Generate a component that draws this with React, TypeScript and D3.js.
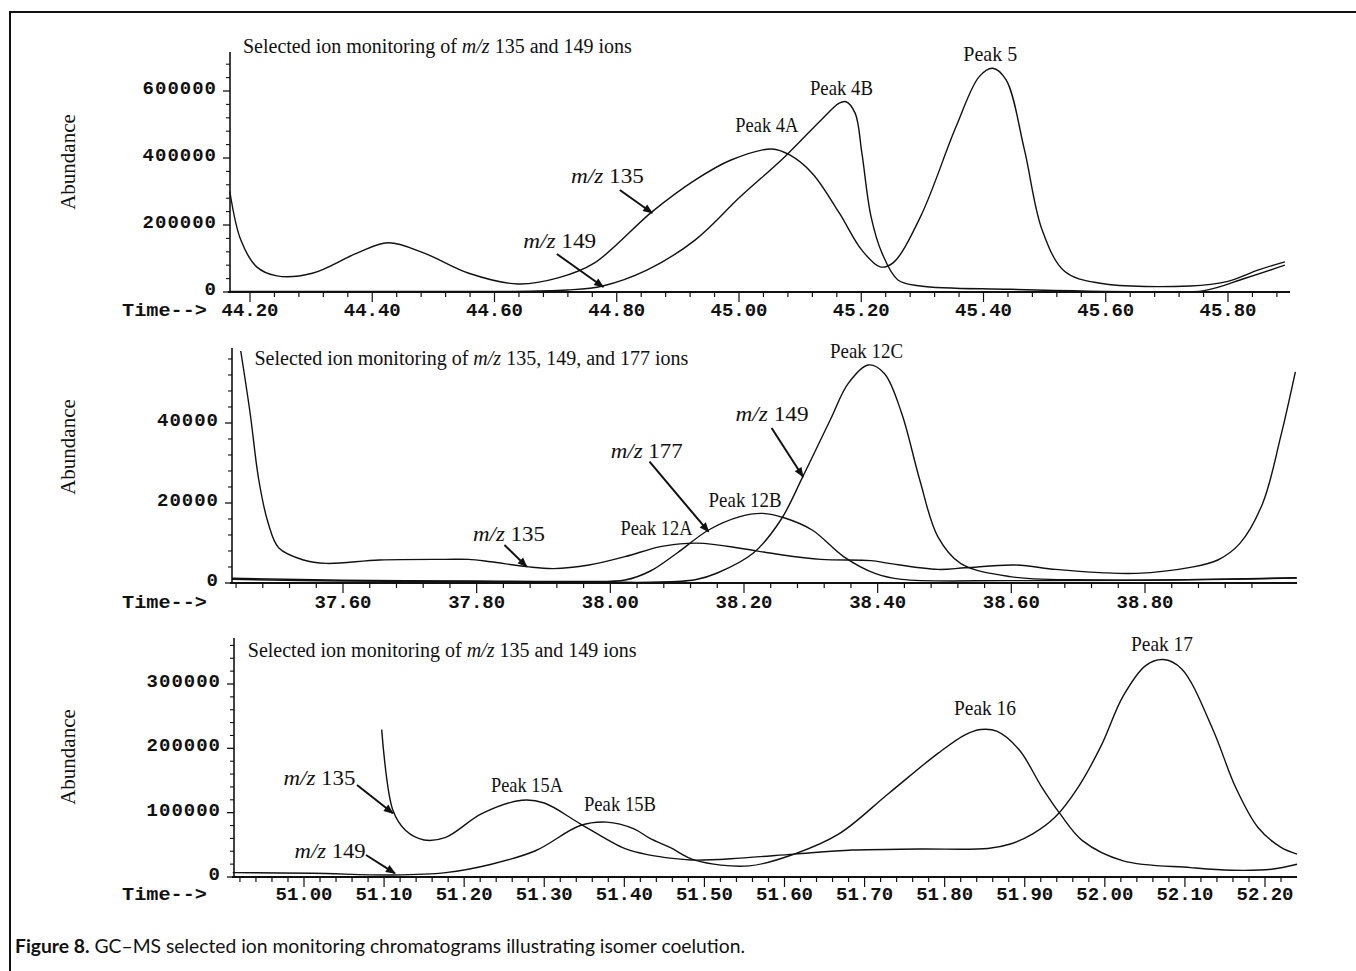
import React from "react";
import * as d3 from "d3";

// ---------------- Data ----------------
// Top panel: SIM of m/z 135 and 149 (time in min, abundance)
const topTime135 = [44.167, 44.185, 44.211, 44.244, 44.302, 44.375, 44.426, 44.485, 44.558, 44.638, 44.704, 44.763, 44.858, 44.928, 44.987, 45.054, 45.083, 45.12, 45.164, 45.201, 45.231, 45.252, 45.297, 45.355, 45.393, 45.415, 45.437, 45.467, 45.496, 45.533, 45.591, 45.738, 45.798, 45.85, 45.893];
const topAbund135 = [300000, 155000, 75000, 48000, 56000, 116000, 147000, 116000, 56000, 24000, 42000, 86000, 240000, 334000, 394000, 427000, 409000, 354000, 236000, 125000, 75000, 87000, 225000, 493000, 643000, 668000, 633000, 424000, 185000, 61000, 26000, 18000, 31000, 66000, 90000];
const topTime149 = [44.167, 44.4, 44.6, 44.719, 44.777, 44.85, 44.928, 45.002, 45.075, 45.134, 45.164, 45.175, 45.19, 45.201, 45.216, 45.234, 45.26, 45.297, 45.444, 45.666, 45.761, 45.828, 45.893];
const topAbund149 = [2000, 1500, 1500, 6000, 18000, 66000, 155000, 284000, 404000, 513000, 564000, 568000, 534000, 415000, 225000, 116000, 36000, 18000, 8000, 1000, 4000, 41000, 80000];
const topXTicks = ["44.20", "44.40", "44.60", "44.80", "45.00", "45.20", "45.40", "45.60", "45.80"];
const topYTicks = [0, 200000, 400000, 600000];

// Middle panel: SIM of m/z 135, 149 and 177
const midTime135 = [37.447, 37.461, 37.474, 37.488, 37.504, 37.541, 37.575, 37.655, 37.754, 37.788, 37.821, 37.875, 37.915, 37.968, 38.022, 38.075, 38.116, 38.14, 38.194, 38.248, 38.315, 38.39, 38.417, 38.49, 38.531, 38.605, 38.666, 38.733, 38.787, 38.868, 38.909, 38.942, 38.976, 39.003, 39.025];
const midAbund135 = [58000, 42500, 25750, 15000, 8750, 5750, 4900, 5750, 5900, 5900, 5300, 4100, 3600, 4500, 6600, 9100, 9900, 9900, 8700, 7250, 5900, 5600, 4900, 3400, 3800, 4500, 3400, 2600, 2400, 3900, 5750, 9900, 19900, 36600, 52800];
const midTime177 = [37.434, 37.6, 37.8, 37.95, 38.022, 38.06, 38.1, 38.147, 38.194, 38.228, 38.261, 38.302, 38.349, 38.396, 38.436, 38.6, 38.8, 39.027];
const midAbund177 = [1200, 700, 500, 400, 750, 3000, 7500, 13250, 16600, 17400, 16250, 13250, 6600, 2400, 900, 600, 700, 1300];
const midTime149 = [37.434, 37.6, 37.8, 38.0, 38.06, 38.127, 38.16, 38.214, 38.255, 38.288, 38.329, 38.356, 38.386, 38.41, 38.436, 38.463, 38.49, 38.524, 38.598, 38.733, 39.027];
const midAbund149 = [900, 500, 300, 200, 200, 800, 2500, 7500, 15750, 26600, 40750, 49900, 54500, 52400, 42400, 25750, 11600, 4900, 1600, 750, 1250];
const midXTicks = ["37.60", "37.80", "38.00", "38.20", "38.40", "38.60", "38.80"];
const midYTicks = [0, 20000, 40000];

// Bottom panel: SIM of m/z 135 and 149
const botTime135 = [51.097, 51.111, 51.127, 51.15, 51.177, 51.222, 51.272, 51.3, 51.345, 51.401, 51.432, 51.46, 51.488, 51.544, 51.612, 51.685, 51.769, 51.854, 51.882, 51.91, 51.938, 51.967, 51.995, 52.023, 52.051, 52.073, 52.096, 52.135, 52.163, 52.191, 52.22, 52.24];
const botAbund135 = [229000, 103600, 72200, 57600, 61700, 98400, 119300, 115000, 82700, 44000, 34000, 29000, 26200, 29300, 35600, 41900, 43500, 44400, 51300, 67000, 93100, 140200, 203000, 281500, 328600, 338000, 323400, 229000, 140200, 77400, 46000, 35600];
const botTime149 = [50.911, 51.011, 51.111, 51.177, 51.234, 51.289, 51.345, 51.378, 51.412, 51.432, 51.457, 51.488, 51.556, 51.612, 51.668, 51.73, 51.792, 51.826, 51.845, 51.865, 51.893, 51.921, 51.944, 51.972, 52.023, 52.107, 52.158, 52.208, 52.24];
const botAbund149 = [6800, 5800, 3100, 6800, 19900, 40800, 80000, 85300, 74900, 60000, 46000, 26200, 17300, 35600, 67000, 129800, 192600, 221400, 229200, 226600, 197800, 140200, 98400, 56500, 25100, 14600, 10500, 12100, 19900];
const botXTicks = ["51.00", "51.10", "51.20", "51.30", "51.40", "51.50", "51.60", "51.70", "51.80", "51.90", "52.00", "52.10", "52.20"];
const botYTicks = [0, 100000, 200000, 300000];

const CAPTION_BOLD = "Figure 8.";
const CAPTION_TEXT = " GC\u2013MS selected ion monitoring chromatograms illustrating isomer coelution.";

// ---------------- Styling / layout ----------------
const SERIF = "'Liberation Serif', 'Times New Roman', serif";
const MONO = "'Liberation Mono', 'Courier New', monospace";
const SANS = "Lato, 'Open Sans', sans-serif";

type Part = { t: string; i?: boolean };
type Ann = { t: number; v: number; w: number; parts: Part[] };
type Arrow = { t0: number; v0: number; t1: number; v1: number };

const mz = (n: string): Part[] => [{ t: "m/z", i: true }, { t: " " + n }];
const pk = (n: string): Part[] => [{ t: "Peak " + n }];

const panels = [
  {
    key: "top",
    xDomain: [44.2, 45.8], xRange: [250, 1228],
    yDomain: [0, 600000], yRange: [292, 91],
    axisLeft: 230, axisRight: 1290, axisTop: 52,
    xMinor: 0.04, xMajor: 0.2, yMinor: 40000,
    xTicks: topXTicks, yTicks: topYTicks,
    abundY: 162, timeBase: 316,
    series: [
      { t: topTime135, v: topAbund135 },
      { t: topTime149, v: topAbund149 },
    ],
    title: { t: 44.1885, v: 713400, parts: [{ t: "Selected ion monitoring of " }, { t: "m/z", i: true }, { t: " 135 and 149 ions" }] },
    labels: [
      { t: 44.725, v: 325400, w: 73, parts: mz("135") },
      { t: 44.647, v: 131300, w: 73, parts: mz("149") },
      { t: 44.994, v: 477600, w: 63, parts: pk("4A") },
      { t: 45.116, v: 589500, w: 63, parts: pk("4B") },
      { t: 45.367, v: 691000, w: 54, parts: pk("5") },
    ] as Ann[],
    arrows: [
      { t0: 44.805, v0: 304500, t1: 44.858, v1: 235800 },
      { t0: 44.702, v0: 113400, t1: 44.778, v1: 14900 },
    ] as Arrow[],
  },
  {
    key: "mid",
    xDomain: [37.6, 38.8], xRange: [343, 1145],
    yDomain: [0, 40000], yRange: [583, 423],
    axisLeft: 232, axisRight: 1297, axisTop: 348,
    xMinor: 0.04, xMajor: 0.2, yMinor: 4000,
    xTicks: midXTicks, yTicks: midYTicks,
    abundY: 447, timeBase: 608,
    series: [
      { t: midTime135, v: midAbund135 },
      { t: midTime177, v: midAbund177 },
      { t: midTime149, v: midAbund149 },
    ],
    title: { t: 37.4676, v: 54500, parts: [{ t: "Selected ion monitoring of " }, { t: "m/z", i: true }, { t: " 135, 149, and 177 ions" }] },
    labels: [
      { t: 38.3287, v: 56250, w: 73, parts: pk("12C") },
      { t: 38.1874, v: 40575, w: 73, parts: mz("149") },
      { t: 38.0006, v: 31250, w: 72, parts: mz("177") },
      { t: 38.147, v: 19075, w: 73, parts: pk("12B") },
      { t: 38.0152, v: 12000, w: 72, parts: pk("12A") },
      { t: 37.7945, v: 10575, w: 72, parts: mz("135") },
    ] as Ann[],
    arrows: [
      { t0: 38.2413, v0: 38750, t1: 38.2883, v1: 26575 },
      { t0: 38.0586, v0: 30325, t1: 38.147, v1: 12825 },
      { t0: 37.8416, v0: 9500, t1: 37.875, v1: 4075 },
    ] as Arrow[],
  },
  {
    key: "bot",
    xDomain: [51.0, 52.2], xRange: [304, 1265],
    yDomain: [0, 300000], yRange: [877, 684],
    axisLeft: 234, axisRight: 1297, axisTop: 638,
    xMinor: 0.02, xMajor: 0.1, yMinor: 20000,
    xTicks: botXTicks, yTicks: botYTicks,
    abundY: 757, timeBase: 900,
    series: [
      { t: botTime135, v: botAbund135 },
      { t: botTime149, v: botAbund149 },
    ],
    title: { t: 50.9298, v: 342400, parts: [{ t: "Selected ion monitoring of " }, { t: "m/z", i: true }, { t: " 135 and 149 ions" }] },
    labels: [
      { t: 50.9744, v: 143000, w: 72, parts: mz("135") },
      { t: 51.2335, v: 132600, w: 72, parts: pk("15A") },
      { t: 51.3496, v: 103000, w: 72, parts: pk("15B") },
      { t: 50.9883, v: 29000, w: 71, parts: mz("149") },
      { t: 51.8117, v: 251800, w: 62, parts: pk("16") },
      { t: 52.0327, v: 351800, w: 62, parts: pk("17") },
    ] as Ann[],
    arrows: [
      { t0: 51.0662, v0: 143000, t1: 51.111, v1: 99000 },
      { t0: 51.0774, v0: 34200, t1: 51.1136, v1: 5750 },
    ] as Arrow[],
  },
];

function RichText({ x, y, parts, size, width, family }: { x: number; y: number; parts: Part[]; size: number; width?: number; family: string }) {
  const fit = width ? { textLength: width, lengthAdjust: "spacingAndGlyphs" } : {};
  return (
    <text x={x} y={y} fontSize={size} fontFamily={family} fill="#111" {...fit}>
      {parts.map((p, k) => (
        <tspan key={k} fontStyle={p.i ? "italic" : "normal"}>{p.t}</tspan>
      ))}
    </text>
  );
}

function Panel({ cfg }: { cfg: (typeof panels)[number] }) {
  const x = d3.scaleLinear().domain(cfg.xDomain).range(cfg.xRange);
  const y = d3.scaleLinear().domain(cfg.yDomain).range(cfg.yRange);
  const line = d3
    .line<[number, number]>()
    .x((d) => x(d[0]))
    .y((d) => y(d[1]))
    .curve(d3.curveCatmullRom.alpha(0.5));
  const yb = y(0);
  const tMin = x.invert(cfg.axisLeft);
  const tMax = x.invert(cfg.axisRight);
  const k0 = Math.ceil(tMin / cfg.xMinor - 1e-6);
  const k1 = Math.floor(tMax / cfg.xMinor + 1e-6);
  const ratio = Math.round(cfg.xMajor / cfg.xMinor);
  const xMinor = d3.range(k0, k1 + 1).filter((k) => k % ratio !== 0).map((k) => k * cfg.xMinor);
  const vTop = y.invert(cfg.axisTop);
  const yMinor = d3.range(0, vTop, cfg.yMinor).filter((v) => !cfg.yTicks.includes(v));
  const ax = cfg.axisLeft;

  return (
    <g>
      {/* curves */}
      {cfg.series.map((s, i) => (
        <path
          key={i}
          d={line(s.t.map((t, j) => [t, s.v[j]] as [number, number])) || ""}
          fill="none"
          stroke="#111"
          strokeWidth={1.4}
          strokeLinejoin="round"
        />
      ))}
      {/* axes */}
      <line x1={ax} x2={ax} y1={cfg.axisTop} y2={yb} stroke="#111" strokeWidth={1.6} />
      <line x1={ax - 2} x2={cfg.axisRight} y1={yb} y2={yb} stroke="#111" strokeWidth={1.8} />
      {xMinor.map((t, i) => (
        <line key={"xm" + i} x1={x(t)} x2={x(t)} y1={yb} y2={yb + 5} stroke="#111" strokeWidth={1.2} />
      ))}
      {cfg.xTicks.map((lab) => (
        <g key={lab}>
          <line x1={x(+lab)} x2={x(+lab)} y1={yb} y2={yb + 10} stroke="#111" strokeWidth={1.2} />
          <text x={x(+lab)} y={cfg.timeBase} textAnchor="middle" fontFamily={MONO} fontWeight="bold" fontSize={19} fill="#111">
            {lab}
          </text>
        </g>
      ))}
      {yMinor.map((v, i) => (
        <line key={"ym" + i} x1={ax - 4} x2={ax} y1={y(v)} y2={y(v)} stroke="#111" strokeWidth={1.1} />
      ))}
      {cfg.yTicks.map((v) => (
        <g key={v}>
          <line x1={ax - 7} x2={ax} y1={y(v)} y2={y(v)} stroke="#111" strokeWidth={1.3} />
          <text x={ax - 13} y={y(v) + 3} textAnchor="end" fontFamily={MONO} fontWeight="bold" fontSize={19} letterSpacing={1} fill="#111">
            {String(v)}
          </text>
        </g>
      ))}
      <text x={122} y={cfg.timeBase} fontFamily={MONO} fontWeight="bold" fontSize={19} fill="#111" textLength={85} lengthAdjust="spacingAndGlyphs">
        Time--&gt;
      </text>
      <text
        transform={`translate(75,${cfg.abundY}) rotate(-90)`}
        textAnchor="middle"
        fontFamily={SERIF}
        fontSize={21}
        fill="#111"
      >
        Abundance
      </text>
      {/* title and annotations */}
      <RichText x={x(cfg.title.t)} y={y(cfg.title.v)} parts={cfg.title.parts} size={20} family={SERIF} />
      {cfg.labels.map((a, i) => (
        <RichText key={i} x={x(a.t)} y={y(a.v)} parts={a.parts} size={21} width={a.w} family={SERIF} />
      ))}
      {cfg.arrows.map((a, i) => (
        <line
          key={i}
          x1={x(a.t0)}
          y1={y(a.v0)}
          x2={x(a.t1)}
          y2={y(a.v1)}
          stroke="#111"
          strokeWidth={2}
          markerEnd="url(#arrowHead)"
        />
      ))}
    </g>
  );
}

export default function App() {
  return (
    <svg
      width={1356}
      height={971}
      viewBox="0 0 1356 971"
      style={{ position: "absolute", left: 0, top: 0, background: "#fff" }}
    >
      <defs>
        <marker id="arrowHead" viewBox="0 0 10 10" refX="9" refY="5" markerUnits="userSpaceOnUse" markerWidth="11" markerHeight="10" orient="auto">
          <path d="M0,1 L10,5 L0,9 Z" fill="#111" />
        </marker>
      </defs>
      <rect x={0} y={0} width={1356} height={971} fill="#fff" />
      <path d="M10,971 V12 H1356" fill="none" stroke="#111" strokeWidth={2} />
      {panels.map((p) => (
        <Panel key={p.key} cfg={p} />
      ))}
      <text x={15} y={953} fontFamily={SANS} fontSize={19} fill="#111" textLength={730} lengthAdjust="spacingAndGlyphs">
        <tspan fontWeight="bold">{CAPTION_BOLD}</tspan>
        <tspan>{CAPTION_TEXT}</tspan>
      </text>
    </svg>
  );
}
